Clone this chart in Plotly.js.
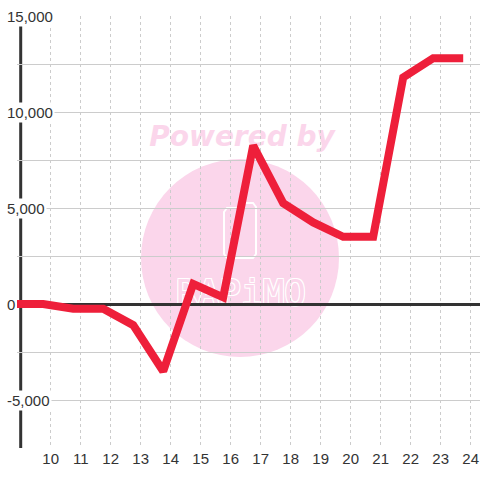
<!DOCTYPE html>
<html>
<head>
<meta charset="utf-8">
<script src="https://cdn.plot.ly/plotly-3.0.1.min.js"></script>
<style>html,body{margin:0;padding:0;background:#fff;}</style>
</head>
<body>
<div id="chart" style="width:480px;height:480px;"></div>
<script>
// ---- data ----
const hours = [8.75, 9.75, 10.75, 11.75, 12.75, 13.75, 14.75, 15.75, 16.75, 17.75, 18.75, 19.75, 20.75, 21.75, 22.75, 23.75];
const values = [0, 0, -250, -250, -1100, -3500, 1050, 350, 8250, 5250, 4250, 3500, 3500, 11800, 12800, 12800];
const xTickVals = [10, 11, 12, 13, 14, 15, 16, 17, 18, 19, 20, 21, 22, 23, 24];
const xTickText = ['10', '11', '12', '13', '14', '15', '16', '17', '18', '19', '20', '21', '22', '23', '24'];
const yTickVals = [15000, 10000, 5000, 0, -5000];
const yTickText = ['15,000', '10,000', '5,000', '0', '-5,000'];

// ---- layout helpers (pixel -> paper) ----
const W = 480, H = 480, M = {l: 17, r: 0, t: 16, b: 32};
const PW = W - M.l - M.r, PH = H - M.t - M.b;
const px = x => (x - M.l) / PW;
const py = y => (H - M.b - y) / PH;

const FONT = 'Liberation Sans, Arial, sans-serif';
const PINK = '#fbd6eb';

const trace = {
  x: hours, y: values, type: 'scatter', mode: 'lines',
  line: {color: '#ee1f3a', width: 8},
  hoverinfo: 'skip', showlegend: false
};

const annotations = yTickVals.map((v, i) => ({
  xref: 'paper', yref: 'y', x: px(5), y: v,
  xanchor: 'left', yanchor: 'middle',
  text: yTickText[i], showarrow: false,
  font: {family: FONT, size: 15, color: '#333'},
  bgcolor: '#ffffff', borderpad: 1
}));

const shapes = [
  // watermark circle
  {type: 'circle', xref: 'paper', yref: 'paper', layer: 'below',
   x0: px(141), x1: px(339), y0: py(357), y1: py(159),
   fillcolor: PINK, line: {width: 0}},
  // watermark logo outline
  {type: 'path', xref: 'paper', yref: 'paper', layer: 'below',
   path: `M ${px(227)} ${py(208)} L ${px(244)} ${py(208)} L ${px(244)} ${py(203)} L ${px(253)} ${py(203)} L ${px(256)} ${py(207)} L ${px(256)} ${py(254)} L ${px(253)} ${py(258)} L ${px(227)} ${py(258)} L ${px(224)} ${py(254)} L ${px(224)} ${py(212)} Z`,
   fillcolor: 'rgba(0,0,0,0)', line: {color: '#ffffff', width: 2}},
  // "Powered by" watermark text (below grid)
  {type: 'rect', xref: 'paper', yref: 'paper', layer: 'below',
   x0: px(140), x1: px(344), y0: py(152), y1: py(116),
   fillcolor: 'rgba(0,0,0,0)', line: {width: 0},
   label: {text: 'Powered by', textposition: 'middle center',
           font: {family: 'DejaVu Sans', size: 28, color: PINK, weight: 'bold', style: 'italic'}}},
  // logo text
  {type: 'rect', xref: 'paper', yref: 'paper', layer: 'below',
   x0: px(170), x1: px(312), y0: py(308), y1: py(270),
   fillcolor: 'rgba(0,0,0,0)', line: {width: 0},
   label: {text: 'RAPiMO', textposition: 'middle center',
           font: {family: 'DejaVu Sans Mono', size: 36, color: PINK,
                  shadow: '1px 1px 0 #fff, -1px -1px 0 #fff, 1px -1px 0 #fff, -1px 1px 0 #fff'}}},
  // y axis line
  {type: 'line', xref: 'x', yref: 'paper', layer: 'below',
   x0: 9, x1: 9, y0: 0, y1: py(24),
   line: {color: '#333333', width: 3}}
];

const layout = {
  width: W, height: H, autosize: false,
  margin: M,
  paper_bgcolor: '#ffffff', plot_bgcolor: '#ffffff',
  showlegend: false,
  font: {family: FONT, size: 15, color: '#333'},
  xaxis: {
    range: [10 + (M.l - 50.7) / 30, 10 + (W - M.r - 50.7) / 30],
    tickvals: xTickVals, ticktext: xTickText,
    showgrid: true, gridcolor: '#cccccc', griddash: 'dot', gridwidth: 1,
    zeroline: false, showline: false, ticks: '',
    tickfont: {family: FONT, size: 15, color: '#333'}
  },
  yaxis: {
    range: [-7500, 15000],
    tick0: 0, dtick: 2500,
    showticklabels: false, ticks: '',
    showgrid: true, gridcolor: '#cccccc', gridwidth: 1,
    zeroline: true, zerolinecolor: '#333333', zerolinewidth: 3,
    showline: false
  },
  shapes: shapes,
  annotations: annotations
};

Plotly.newPlot('chart', [trace], layout, {staticPlot: true, displayModeBar: false});
</script>
</body>
</html>
